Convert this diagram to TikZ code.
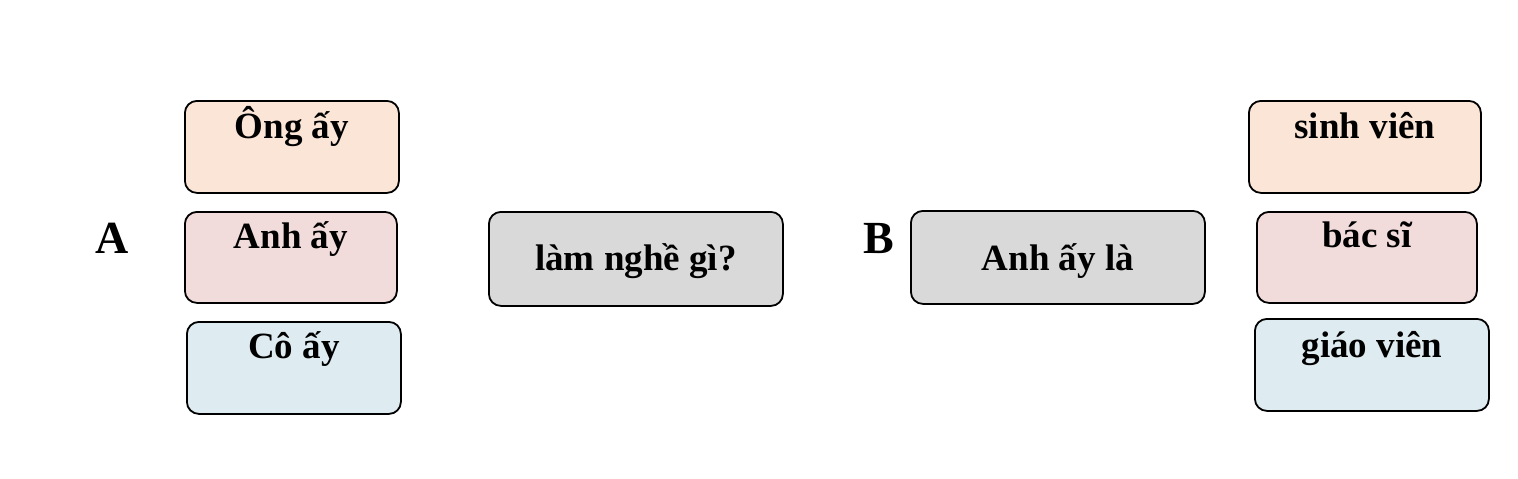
\documentclass[tikz,border=0pt]{standalone}
\usepackage{fontspec}
\setmainfont{Liberation Serif}
\definecolor{peach}{HTML}{FBE5D6}
\definecolor{pinkbox}{HTML}{F2DCDB}
\definecolor{bluebox}{HTML}{DEEBF1}
\definecolor{graybox}{HTML}{D9D9D9}
\begin{document}
\begin{tikzpicture}[x=0.5pt,y=-0.5pt,
 box/.style={draw=black, line width=0.9pt, rounded corners=6pt, inner sep=0pt, anchor=north west},
 lbl/.style={font=\fontsize{18.5}{20}\selectfont\bfseries, anchor=base, inner sep=0pt},
 big/.style={font=\fontsize{23}{26}\selectfont\bfseries, anchor=base, inner sep=0pt}]
\useasboundingbox (0,0) rectangle (1518,478);
% left column
\node[box, fill=peach, minimum width=107pt, minimum height=46pt] (ong) at (184,100) {};
\node[lbl] (tong) at ([yshift=-19pt]ong.north) {Ông ấy};
\node[box, fill=pinkbox, minimum width=106pt, minimum height=45.5pt] (anh) at (184,211) {};
\node[lbl] (tanh) at ([yshift=-18.5pt]anh.north) {Anh ấy};
\node[box, fill=bluebox, minimum width=107pt, minimum height=46pt] (co) at (186,321) {};
\node[lbl] (tco) at ([yshift=-18.5pt]co.north) {Cô ấy};
\node[big] (A) at (112,253) {A};
% middle
\node[box, fill=graybox, minimum width=147pt, minimum height=47pt] (q) at (488,211) {};
\node[lbl] (tq) at ([yshift=-29.5pt]q.north) {làm nghề gì?};
\node[big] (B) at (879,253) {B};
\node[box, fill=graybox, minimum width=147pt, minimum height=46.5pt] (ans) at (910,210) {};
\node[lbl] (tans) at ([yshift=-30pt]ans.north) {Anh ấy là};
% right column
\node[box, fill=peach, minimum width=116pt, minimum height=46pt] (sv) at (1248,100) {};
\node[lbl] (tsv) at ([yshift=-19pt]sv.north) {sinh viên};
\node[box, fill=pinkbox, minimum width=110pt, minimum height=45.5pt] (bs) at (1256,211) {};
\node[lbl] (tbs) at ([yshift=-18pt]bs.north) {bác sĩ};
\node[box, fill=bluebox, minimum width=117pt, minimum height=46pt] (gv) at (1254,318) {};
\node[lbl] (tgv) at ([yshift=-19.5pt]gv.north) {giáo viên};
\end{tikzpicture}
\end{document}
